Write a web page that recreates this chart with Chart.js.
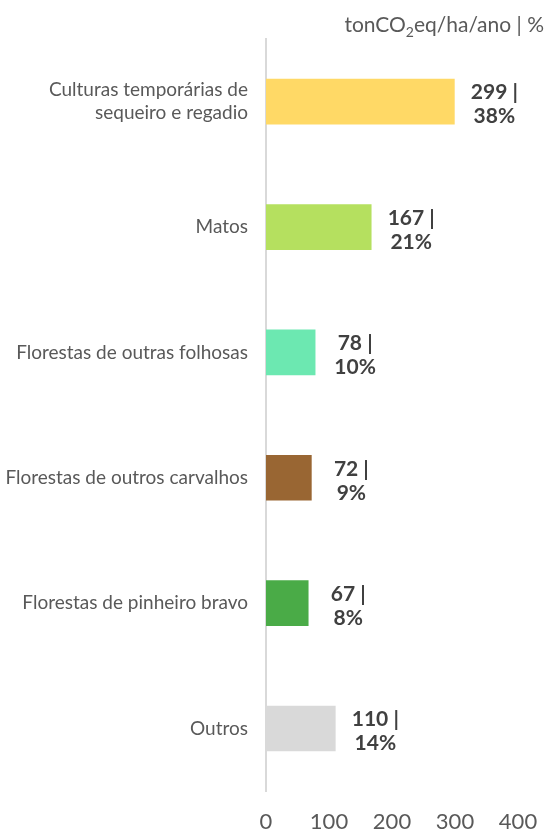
<!DOCTYPE html>
<html>
<head>
<meta charset="utf-8">
<script src="https://cdn.jsdelivr.net/npm/chart.js@4.4.1/dist/chart.umd.min.js"></script>
<style>
  html, body { margin: 0; padding: 0; background: #fff; }
  #wrap { width: 546px; height: 832px; position: relative; }
</style>
</head>
<body>
<div id="wrap"><canvas id="chart"></canvas></div>
<script>
// Emissions by land use (tonCO2eq/ha/ano) and share of total
const categories = [
  ['Culturas temporárias de', 'sequeiro e regadio'],
  'Matos',
  'Florestas de outras folhosas',
  'Florestas de outros carvalhos',
  'Florestas de pinheiro bravo',
  'Outros'
];
const emissions = [299, 167, 78, 72, 67, 110];
const shares = [38, 21, 10, 9, 8, 14];
const barColors = ['#FFD966', '#B5E05F', '#6CE8B1', '#996633', '#4AAB47', '#D9D9D9'];
const xTicks = [0, 100, 200, 300, 400];

const textColor = '#595959';
const fontFamily = 'Lato, "Open Sans", sans-serif';

// value | percentage labels next to each bar
const valueLabels = {
  id: 'valueLabels',
  afterDatasetsDraw(chart) {
    const ctx = chart.ctx;
    const meta = chart.getDatasetMeta(0);
    ctx.save();
    ctx.font = 'bold 21px ' + fontFamily;
    ctx.fillStyle = '#404040';
    ctx.textAlign = 'center';
    ctx.textBaseline = 'middle';
    meta.data.forEach((bar, i) => {
      const x = bar.x + 40;
      ctx.fillText(emissions[i] + ' |', x, bar.y - 9);
      ctx.fillText(shares[i] + '%', x, bar.y + 15);
    });
    ctx.restore();
  }
};

// unit title in the top right corner, with subscript 2
const unitTitle = {
  id: 'unitTitle',
  afterDraw(chart) {
    const ctx = chart.ctx;
    ctx.save();
    ctx.fillStyle = textColor;
    ctx.textBaseline = 'alphabetic';
    ctx.textAlign = 'left';
    const big = '21px ' + fontFamily;
    const small = '14px ' + fontFamily;
    const parts = [['tonCO', big, 0], ['2', small, 5], ['eq/ha/ano | %', big, 0]];
    let w = 0;
    parts.forEach(p => { ctx.font = p[1]; w += ctx.measureText(p[0]).width; });
    let x = 544 - w;
    const y = 32;
    parts.forEach(p => {
      ctx.font = p[1];
      ctx.fillText(p[0], x, y + p[2]);
      x += ctx.measureText(p[0]).width;
    });
    ctx.restore();
  }
};

new Chart(document.getElementById('chart'), {
  type: 'bar',
  data: {
    labels: categories,
    datasets: [{
      data: emissions,
      backgroundColor: barColors,
      barThickness: 45
    }]
  },
  options: {
    indexAxis: 'y',
    responsive: true,
    maintainAspectRatio: false,
    animation: false,
    layout: { padding: { top: 39, right: 28, left: 0, bottom: 0 } },
    plugins: {
      legend: { display: false },
      tooltip: { enabled: false }
    },
    scales: {
      x: {
        min: 0,
        max: 400,
        afterBuildTicks: (scale) => { scale.ticks = xTicks.map(v => ({ value: v })); },
        afterFit: (scale) => {
          scale.height = 38;
          // keep the plot edge fixed, labels may overhang
          scale.paddingLeft = 0;
          scale.paddingRight = 0;
        },
        grid: { display: false, drawTicks: false },
        border: { display: false },
        ticks: {
          color: textColor,
          font: { family: fontFamily, size: 22 },
          padding: 18
        }
      },
      y: {
        afterFit: (scale) => { scale.width = 266; },
        grid: { display: false, drawTicks: false },
        border: { display: true, color: '#D9D9D9', width: 2 },
        ticks: {
          color: textColor,
          font: { family: fontFamily, size: 19, lineHeight: 1.2 },
          padding: 18
        }
      }
    }
  },
  plugins: [valueLabels, unitTitle]
});
</script>
</body>
</html>
